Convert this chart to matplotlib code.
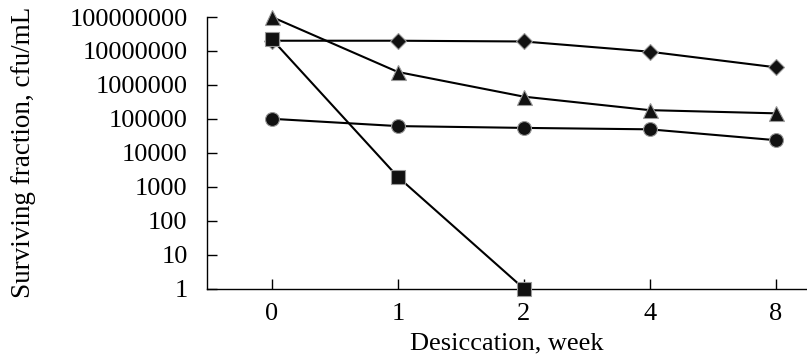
import matplotlib
matplotlib.use("Agg")
import matplotlib.pyplot as plt
import numpy as np

weeks = ["0", "1", "2", "4", "8"]
diamond = [2.0e7, 2.0e7, 1.9e7, 9.5e6, 3.3e6]
triangle = [1.0e8, 2.4e6, 4.5e5, 1.8e5, 1.45e5]
circle = [1.0e5, 6.1e4, 5.4e4, 4.9e4, 2.35e4]
square_x = ["0", "1", "2"]
square = [2.2e7, 1.95e3, 1.0]
ytick_vals = [1, 10, 100, 1000, 10000, 100000, 1000000, 10000000, 100000000]

plt.rcParams['font.family'] = ['Liberation Serif', 'DejaVu Serif']
fig = plt.figure(figsize=(8.07, 3.6), dpi=100)
ax = fig.add_axes([207/807, 71.5/360, (807-207)/807, (288.5-17)/360])

pos = np.arange(len(weeks))
mk = dict(color='black', lw=1.5, markerfacecolor='#111111', markeredgecolor='#999999',
          markeredgewidth=0.8, clip_on=False, zorder=3)
ax.plot(pos, diamond, marker='D', markersize=8.5, **mk)
ax.plot(pos, triangle, marker='^', markersize=10.8, **mk)
ax.plot(pos, circle, marker='o', markersize=10, **mk)
ax.plot(pos[:len(square)], square, marker='s', markersize=10.5, **mk)

ax.set_yscale('log')
ax.set_ylim(1, 1e8)
ax.set_xlim(-0.516, 4.25)
ax.set_yticks(ytick_vals)
ax.set_yticklabels([str(v) for v in ytick_vals])
ax.yaxis.set_minor_locator(matplotlib.ticker.NullLocator())
ax.set_xticks(pos)
ax.set_xticklabels(weeks)
ax.tick_params(axis='both', direction='in', length=7, width=1, labelsize=19)
ax.tick_params(axis='x', pad=10.5)
ax.tick_params(axis='y', pad=14)
for s in ['top', 'right']:
    ax.spines[s].set_visible(False)
for s in ['left', 'bottom']:
    ax.spines[s].set_linewidth(1)
ax.set_xlabel('Desiccation, week', fontsize=19, labelpad=5)
ax.set_ylabel('Surviving fraction, cfu/mL', fontsize=19.5, labelpad=24)
fig.savefig('out.png', dpi=100)
